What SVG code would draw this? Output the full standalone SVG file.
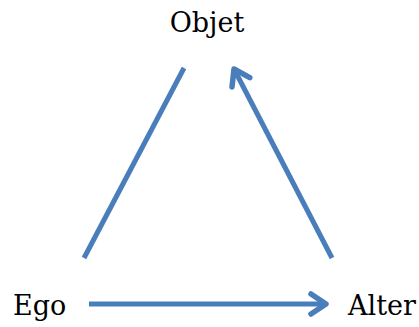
<svg xmlns="http://www.w3.org/2000/svg" width="419" height="327" viewBox="0 0 419 327">
<style>
.lbl{font-family:"DejaVu Serif","Liberation Serif",serif;font-size:27px;fill:#000}
.c{stroke:#4a7ebb;stroke-width:5;fill:none}
</style>
<defs>
<marker id="ah" markerUnits="userSpaceOnUse" viewBox="-22 -14 26 28" markerWidth="26" markerHeight="28" refX="0" refY="0" orient="auto">
<path d="M-15,-10 L0,0 L-15,10" fill="none" stroke="#4a7ebb" stroke-width="5.5" stroke-linecap="round" stroke-linejoin="round"/>
</marker>
</defs>
<rect width="419" height="327" fill="#fff"/>
<g id="objet"><text class="lbl" x="207" y="32" text-anchor="middle">Objet</text></g>
<g id="ego"><text class="lbl" x="13" y="315">Ego</text></g>
<g id="alter"><text class="lbl" x="348" y="315">Alter</text></g>
<g id="connectors">
<line class="c" x1="184" y1="68" x2="84" y2="258"/>
<line class="c" x1="332" y1="258" x2="234" y2="69" marker-end="url(#ah)"/>
<line class="c" x1="89" y1="304" x2="326" y2="304" marker-end="url(#ah)"/>
</g>
</svg>
